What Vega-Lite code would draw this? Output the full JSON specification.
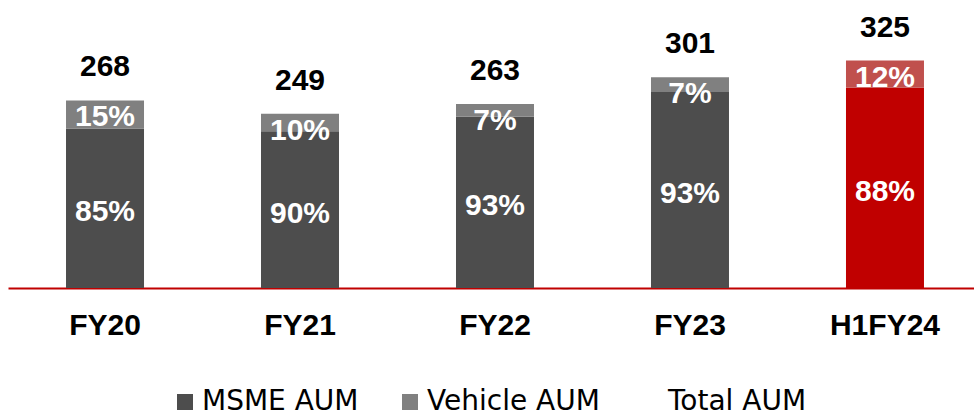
{
  "$schema": "https://vega.github.io/schema/vega-lite/v6.json",
  "autosize": "none",
  "width": 966,
  "height": 280,
  "padding": {"left": 8, "top": 8, "right": 0, "bottom": 129},
  "background": "white",
  "config": {"view": {"stroke": null}, "font": "Liberation Sans"},
  "data": {
    "values": [
      {"period": "FY20", "series": "MSME AUM", "value": 227.8, "pct": "85%", "total": 268},
      {"period": "FY20", "series": "Vehicle AUM", "value": 40.2, "pct": "15%", "total": 268},
      {"period": "FY21", "series": "MSME AUM", "value": 224.1, "pct": "90%", "total": 249},
      {"period": "FY21", "series": "Vehicle AUM", "value": 24.9, "pct": "10%", "total": 249},
      {"period": "FY22", "series": "MSME AUM", "value": 244.6, "pct": "93%", "total": 263},
      {"period": "FY22", "series": "Vehicle AUM", "value": 18.4, "pct": "7%", "total": 263},
      {"period": "FY23", "series": "MSME AUM", "value": 279.9, "pct": "93%", "total": 301},
      {"period": "FY23", "series": "Vehicle AUM", "value": 21.1, "pct": "7%", "total": 301},
      {"period": "H1FY24", "series": "MSME AUM", "value": 286.0, "pct": "88%", "total": 325},
      {"period": "H1FY24", "series": "Vehicle AUM", "value": 39.0, "pct": "12%", "total": 325}
    ]
  },
  "encoding": {
    "x": {
      "field": "period", "type": "nominal", "sort": null,
      "scale": {"paddingInner": 0.6, "paddingOuter": 0.277, "align": 0.537},
      "axis": {
        "title": null, "labelAngle": 0, "ticks": false,
        "domainColor": "#c00000", "domainWidth": 2,
        "labelFontSize": 30, "labelFontWeight": "bold", "labelColor": "#000000",
        "labelFont": "Liberation Sans", "labelPadding": 22
      }
    }
  },
  "layer": [
    {
      "mark": {"type": "bar"},
      "encoding": {
        "y": {"field": "value", "type": "quantitative", "stack": "zero", "scale": {"domain": [0, 400]}, "axis": null},
        "order": {"field": "series", "type": "nominal", "sort": "ascending"},
        "fill": {
          "field": "series", "type": "nominal",
          "scale": {"domain": ["MSME AUM", "Vehicle AUM", "Total AUM"], "range": ["#4d4d4d", "#808080", "transparent"]},
          "condition": [
            {"test": "datum.period === 'H1FY24' && datum.series === 'MSME AUM'", "value": "#c00000"},
            {"test": "datum.period === 'H1FY24' && datum.series === 'Vehicle AUM'", "value": "#c0504d"}
          ],
          "legend": {
            "title": null, "orient": "none", "direction": "horizontal",
            "legendX": 163, "legendY": 380,
            "symbolType": "square", "symbolSize": 256, "symbolStrokeWidth": 0,
            "labelFont": "DejaVu Sans", "labelFontSize": 28, "labelColor": "#000000",
            "labelOffset": 3, "columnPadding": 37, "labelLimit": 400
          }
        }
      }
    },
    {
      "transform": [{"filter": "datum.series === 'MSME AUM'"}],
      "mark": {"type": "text", "baseline": "alphabetic", "dy": -24, "fontSize": 30, "fontWeight": "bold", "color": "#000000"},
      "encoding": {
        "y": {"field": "total", "type": "quantitative", "scale": {"domain": [0, 400]}, "axis": null},
        "text": {"field": "total", "type": "quantitative"}
      }
    },
    {
      "transform": [{"filter": "datum.series === 'Vehicle AUM'"}],
      "mark": {"type": "text", "baseline": "alphabetic", "dy": 26, "fontSize": 30, "fontWeight": "bold", "color": "#ffffff"},
      "encoding": {
        "y": {"field": "total", "type": "quantitative", "scale": {"domain": [0, 400]}, "axis": null},
        "text": {"field": "pct", "type": "nominal"}
      }
    },
    {
      "transform": [{"filter": "datum.series === 'MSME AUM'"}],
      "mark": {"type": "text", "baseline": "middle", "dy": 4, "fontSize": 30, "fontWeight": "bold", "color": "#ffffff"},
      "encoding": {
        "y": {"field": "value", "type": "quantitative", "scale": {"domain": [0, 800]}, "axis": null},
        "text": {"field": "pct", "type": "nominal"}
      }
    }
  ],
  "resolve": {"scale": {"y": "independent"}}
}
